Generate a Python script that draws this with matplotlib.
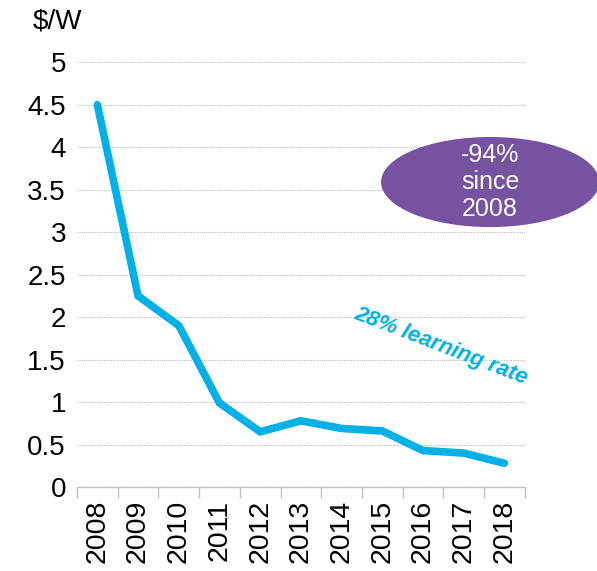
import matplotlib.pyplot as plt
from matplotlib.patches import Ellipse
import numpy as np

plt.rcParams['font.family'] = ['Liberation Sans', 'DejaVu Sans']

years = ['2008', '2009', '2010', '2011', '2012', '2013', '2014', '2015', '2016', '2017', '2018']
price = [4.5, 2.25, 1.9, 0.99, 0.65, 0.78, 0.69, 0.66, 0.43, 0.40, 0.28]

fig = plt.figure(figsize=(5.97, 5.71), dpi=100)
ax = fig.add_axes([0.129, 0.147, 0.750, 0.744])

x = np.arange(len(years))
ax.plot(x, price, color='#00B0E6', linewidth=5.5, solid_capstyle='round', solid_joinstyle='miter', zorder=3)

ax.set_xlim(-0.5, len(years) - 0.5)
ax.set_ylim(0, 5)
ax.set_yticks(np.arange(0, 5.01, 0.5))
ax.set_yticklabels(['0', '0.5', '1', '1.5', '2', '2.5', '3', '3.5', '4', '4.5', '5'])
ax.yaxis.grid(True, linestyle=(0, (1, 1)), color='#BBBBBB', linewidth=0.8)
ax.set_axisbelow(True)

# categories sit between tick marks
ax.set_xticks(np.arange(-0.5, len(years), 1))
ax.set_xticklabels([])
ax.set_xticks(x, minor=True)
ax.set_xticklabels(years, minor=True, rotation=90)
ax.tick_params(axis='x', which='major', direction='out', length=8, color='#BFBFBF', width=1)
ax.tick_params(axis='x', which='minor', length=0, labelsize=20.5, pad=9)
ax.tick_params(axis='y', length=0, labelsize=20, pad=8)

for s in ['top', 'right', 'left']:
    ax.spines[s].set_visible(False)
ax.spines['bottom'].set_color('#BFBFBF')
ax.spines['bottom'].set_linewidth(1)

fig.text(0.055, 0.962, '$/W', fontsize=20, ha='left', va='center')

ell = Ellipse((9.65, 3.59), width=5.36, height=1.06, facecolor='#7652A1', edgecolor='none', clip_on=False, zorder=4)
ax.add_patch(ell)
ax.text(9.65, 3.59, '-94%\nsince\n2008', color='white', fontsize=18, ha='center', va='center',
        linespacing=1.15, zorder=5)

ax.text(8.45, 1.66, '28% learning rate', color='#00B0E6', fontsize=16, fontweight='bold', fontstyle='italic',
        rotation=-21, ha='center', va='center', rotation_mode='anchor', zorder=5)

fig.savefig('out.png', dpi=100)
